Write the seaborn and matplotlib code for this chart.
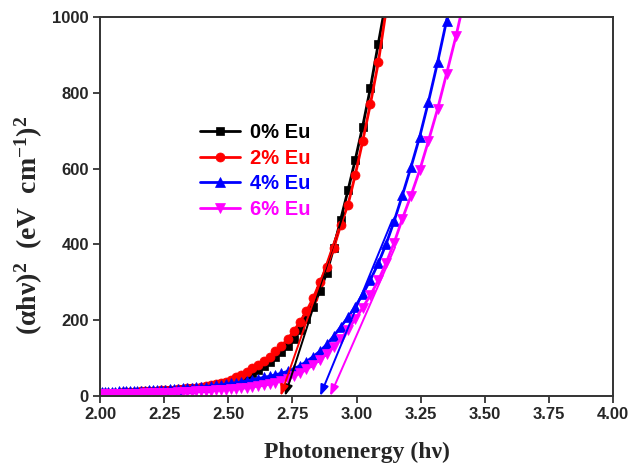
import matplotlib
matplotlib.use("Agg")
import matplotlib.pyplot as plt
import seaborn as sns
import pandas as pd

# Photon energy grid (eV)
energy = [2.006, 2.020, 2.033, 2.046, 2.060, 2.074, 2.088, 2.102, 2.116, 2.131,
          2.145, 2.160, 2.175, 2.191, 2.206, 2.222, 2.238, 2.255, 2.271, 2.288,
          2.305, 2.322, 2.340, 2.357, 2.375, 2.394, 2.412, 2.431, 2.451, 2.470,
          2.490, 2.510, 2.531, 2.551, 2.573, 2.594, 2.616, 2.638, 2.661, 2.684,
          2.707, 2.731, 2.756, 2.780, 2.805, 2.831, 2.857, 2.884, 2.911, 2.938,
          2.967, 2.995, 3.024, 3.054, 3.085, 3.116, 3.147, 3.179, 3.212, 3.246,
          3.280, 3.316, 3.351, 3.388, 3.425]

# (alpha h nu)^2 for each Eu doping level
eu0 = [7, 7, 7, 8, 8, 8, 9, 9, 9, 10,
       10, 11, 11, 12, 12, 13, 14, 14, 15, 16,
       17, 18, 19, 20, 21, 22, 24, 26, 28, 31,
       34, 38, 42, 47, 53, 60, 68, 78, 89, 102,
       116, 132, 151, 174, 202, 236, 276, 325, 390, 465,
       543, 623, 711, 812, 930, 1045]
eu2 = [8, 8, 8, 9, 9, 9, 10, 10, 10, 11,
       11, 12, 12, 13, 13, 14, 15, 15, 16, 17,
       18, 19, 20, 21, 22, 24, 26, 28, 31, 34,
       38, 43, 49, 56, 64, 73, 82, 93, 104, 118,
       132, 150, 172, 196, 224, 258, 300, 340, 390, 450,
       505, 583, 672, 770, 880, 1020]
eu4 = [10, 10, 11, 11, 11, 12, 12, 12, 13, 13,
       13, 14, 14, 15, 15, 16, 16, 17, 18, 18,
       19, 20, 21, 22, 23, 24, 25, 26, 28, 29,
       31, 33, 35, 37, 40, 43, 46, 49, 52, 56,
       60, 65, 72, 80, 91, 104, 118, 136, 158, 182,
       208, 236, 268, 306, 350, 402, 462, 530, 603, 683,
       775, 880, 990, 1100]
eu6 = [4, 4, 4, 4, 5, 5, 5, 5, 6, 6,
       6, 6, 7, 7, 7, 8, 8, 8, 9, 9,
       10, 10, 11, 11, 12, 13, 13, 14, 15, 16,
       17, 18, 19, 20, 22, 24, 26, 28, 31, 35,
       40, 45, 52, 60, 70, 82, 96, 112, 130, 150,
       175, 203, 233, 266, 305, 352, 405, 468, 528, 595,
       672, 757, 850, 950, 1060]

labels = ["0% Eu", "2% Eu", "4% Eu", "6% Eu"]
series = [eu0, eu2, eu4, eu6]
colors = ["#000000", "#ff0000", "#0000ff", "#ff00ff"]
markers = ["s", "o", "^", "v"]
msizes = [5.5, 6.5, 7, 7]

# Linear extrapolation to the energy axis: (start E, start y, band gap E)
fit_start_e = [2.950, 2.930, 3.140, 3.150]
fit_start_y = [483, 440, 465, 392]
band_gap = [2.721, 2.704, 2.858, 2.897]

sns.set_style("ticks")
plt.rcParams["font.family"] = ["Liberation Sans", "DejaVu Sans"]
plt.rcParams["font.weight"] = "bold"
plt.rcParams["mathtext.fontset"] = "custom"
plt.rcParams["mathtext.rm"] = "Liberation Serif:bold"
plt.rcParams["mathtext.it"] = "Liberation Serif:bold"
plt.rcParams["mathtext.bf"] = "Liberation Serif:bold"

fig = plt.figure(figsize=(6.41, 4.67), dpi=100)
ax = fig.add_axes([100 / 641, 1 - 396 / 467, 513 / 641, 379 / 467])

for lab, ys, c, m, ms in zip(labels, series, colors, markers, msizes):
    df = pd.DataFrame({"E": energy[:len(ys)], "A": ys})
    sns.lineplot(data=df, x="E", y="A", ax=ax, color=c, marker=m,
                 markersize=ms, markeredgecolor=c, markerfacecolor=c,
                 markeredgewidth=0.5, linewidth=2.0, label=lab,
                 sort=False, estimator=None)

for x0, y0, eg, c in zip(fit_start_e, fit_start_y, band_gap, colors):
    ax.annotate("", xy=(eg, 0), xytext=(x0, y0),
                arrowprops=dict(arrowstyle="-|>,head_length=0.8,head_width=0.3",
                                color=c, lw=1.4, shrinkA=0, shrinkB=0,
                                mutation_scale=8))

ax.set_xlim(2.0, 4.0)
ax.set_ylim(0, 1000)
ax.set_xticks([2.00, 2.25, 2.50, 2.75, 3.00, 3.25, 3.50, 3.75, 4.00])
ax.set_xticklabels(["2.00", "2.25", "2.50", "2.75", "3.00", "3.25", "3.50", "3.75", "4.00"])
ax.set_yticks([0, 200, 400, 600, 800, 1000])
ax.tick_params(axis="both", direction="out", length=5, width=1.3,
               labelsize=12, color="#333333", pad=3)
for lbl in ax.get_xticklabels() + ax.get_yticklabels():
    lbl.set_fontweight("bold")
for sp in ax.spines.values():
    sp.set_visible(True)
    sp.set_color("#333333")
    sp.set_linewidth(1.4)

ax.set_xlabel("Photonenergy (hν)", family="Liberation Serif", weight="bold",
              fontsize=17, labelpad=14)
ax.set_ylabel(r"(αhν)$^{2}$  (eV  cm$^{-1}$)$^{2}$", family="Liberation Serif",
              weight="bold", fontsize=20)
ax.yaxis.set_label_coords(-0.108, 0.45)

leg = ax.legend(loc="upper left", bbox_to_anchor=(0.195, 0.72), frameon=False,
                handlelength=2.0, handletextpad=0.5,
                labelspacing=0.33, borderpad=0, borderaxespad=0,
                labelcolor="linecolor", prop={"weight": "bold", "size": 14.5})

fig.savefig("out.png", dpi=100)
